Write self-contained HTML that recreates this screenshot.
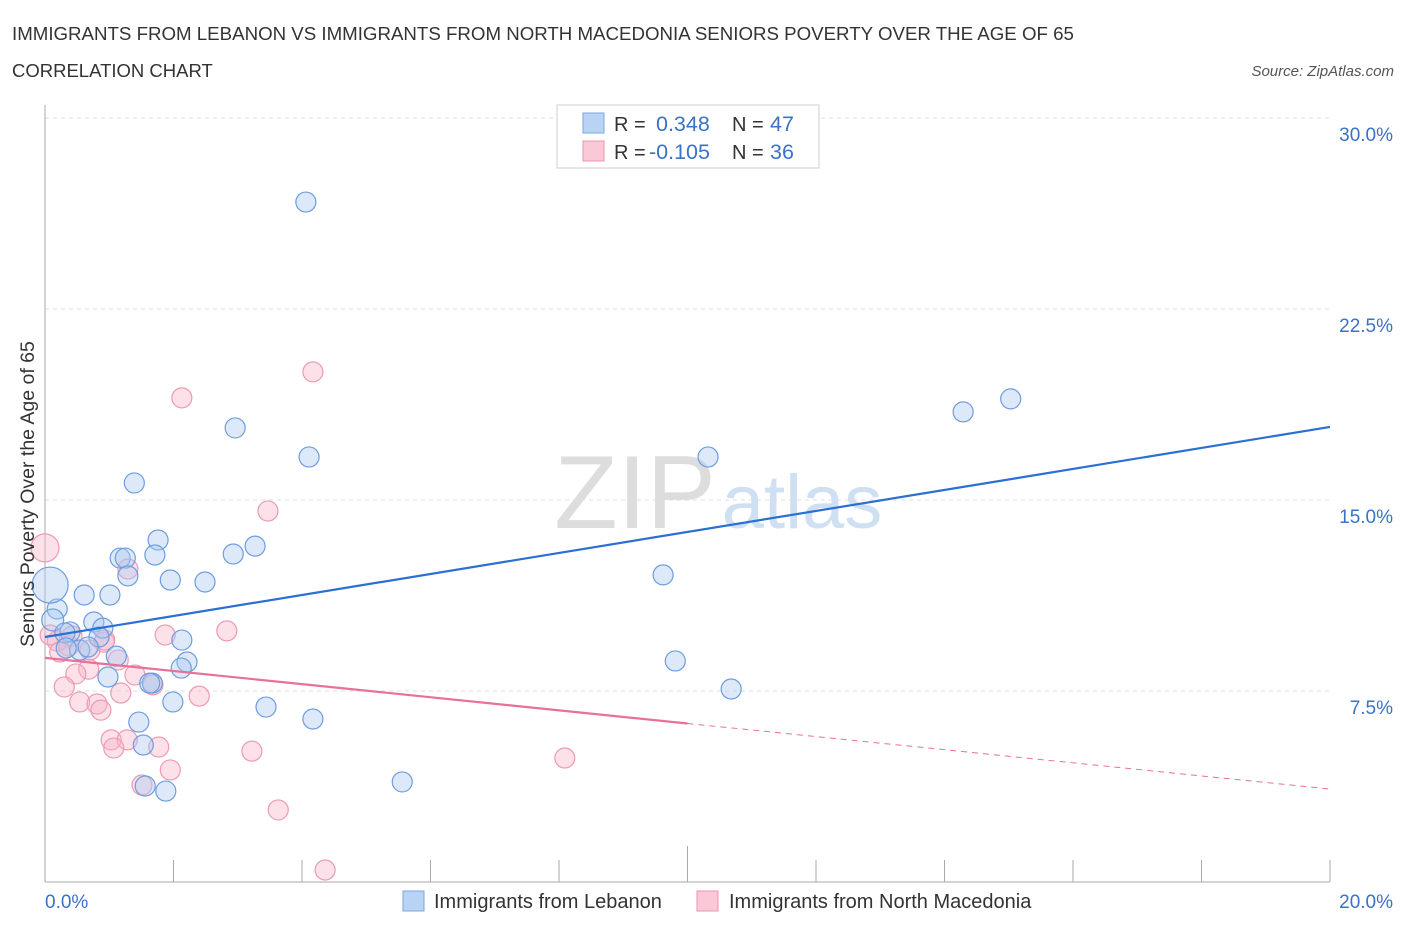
<!DOCTYPE html>
<html><head><meta charset="utf-8">
<style>
body{margin:0;background:#fff;font-family:"Liberation Sans",sans-serif;}
svg text{font-family:"Liberation Sans",sans-serif;}
</style></head>
<body>
<svg id="chart" width="1406" height="930" viewBox="0 0 1406 930">
<text x="12" y="40" font-size="18.7" fill="#333">IMMIGRANTS FROM LEBANON VS IMMIGRANTS FROM NORTH MACEDONIA SENIORS POVERTY OVER THE AGE OF 65</text>
<text x="12" y="77" font-size="18.5" fill="#333">CORRELATION CHART</text>
<text x="1394" y="76" font-size="15" fill="#555" font-style="italic" text-anchor="end">Source: ZipAtlas.com</text>
<g id="grid"></g>
<g id="axes"></g>
<text x="635" y="528" font-size="104" fill="#ddd" font-family="Liberation Serif" text-anchor="middle">ZIP</text>
<text x="802" y="528" font-size="76" fill="#cfe0f3" text-anchor="middle">atlas</text>
<g id="pts"></g>
<g id="trends"></g>
<text transform="translate(34,494) rotate(-90)" font-size="19.5" fill="#333" text-anchor="middle">Seniors Poverty Over the Age of 65</text>
<g>
<rect x="557" y="105" width="262" height="63" fill="#fff" stroke="#ccc"/>
<rect x="583" y="113" width="21" height="20" fill="#b9d3f5" stroke="#7aa7e0"/>
<rect x="583" y="141" width="21" height="20" fill="#fbc8d8" stroke="#ee93ae"/>
<text x="614" y="131" font-size="20" fill="#333">R = </text>
<text x="656" y="131" font-size="21.5" fill="#3a72c8">0.348</text>
<text x="732" y="131" font-size="20" fill="#333">N = </text>
<text x="770" y="131" font-size="21.5" fill="#3a72c8">47</text>
<text x="614" y="159" font-size="20" fill="#333">R = </text>
<text x="649" y="159" font-size="21.5" fill="#3a72c8">-0.105</text>
<text x="732" y="159" font-size="20" fill="#333">N = </text>
<text x="770" y="159" font-size="21.5" fill="#3a72c8">36</text>
</g>
<g>
<rect x="403" y="891" width="21" height="20" fill="#b9d3f5" stroke="#7aa7e0"/>
<text x="434" y="908" font-size="20" fill="#333">Immigrants from Lebanon</text>
<rect x="697" y="891" width="21" height="20" fill="#fbc8d8" stroke="#ee93ae"/>
<text x="729" y="908" font-size="20" fill="#333">Immigrants from North Macedonia</text>
</g>
</svg>
<script>
const yTicks=[7.5,15,22.5,30];
const yTickLabels=["7.5%","15.0%","22.5%","30.0%"];
const xTickLabels=["0.0%","20.0%"];
const blueX=[4.06,2.96,4.11,1.39,1.76,1.17,1.25,1.71,2.93,3.27,1.29,1.95,2.49,0.61,1.01,0.19,0.08,0.12,0.76,0.90,0.39,0.31,0.84,0.54,0.67,2.13,2.21,2.12,1.11,0.98,1.67,1.99,3.44,1.46,4.17,1.53,1.56,1.88,5.56,9.62,9.81,10.32,10.68,14.29,15.03,0.33,1.63];
const blueY=[26.70,17.83,16.69,15.67,13.43,12.72,12.72,12.84,12.88,13.19,12.02,11.86,11.78,11.27,11.27,10.72,11.66,10.29,10.21,9.97,9.82,9.78,9.62,9.11,9.23,9.50,8.64,8.40,8.87,8.05,7.81,7.07,6.87,6.28,6.40,5.38,3.77,3.57,3.93,12.06,8.68,16.69,7.58,18.46,18.97,9.19,7.81];
const blueR=[10,10,10,10,10,10,10,10,10,10,10,10,10,10,10,10,18,11,10,10,10,10,10,10,10,10,10,10,10,10,10,10,10,10,10,10,10,10,10,10,10,10,10,10,10,10,10];
const pinkX=[0,4.17,2.13,3.47,1.29,2.83,1.87,0.92,0.19,0.37,0.23,0.68,0.48,1.40,0.30,1.18,2.40,1.68,0.54,0.81,0.87,1.03,1.28,1.07,1.77,3.22,1.95,1.51,8.09,3.63,4.36,1.14,0.42,0.93,0.08,0.70];
const pinkY=[13.12,20.03,19.01,14.57,12.29,9.86,9.70,9.42,9.46,9.27,9.03,8.36,8.17,8.13,7.66,7.42,7.30,7.74,7.07,6.99,6.75,5.58,5.58,5.26,5.30,5.14,4.40,3.81,4.87,2.83,0.47,8.72,9.66,9.50,9.70,9.11];
const blueTrend=[9.62,17.87];
const pinkTrend=[8.80,3.65];
const pinkSolidEnd=10;
const NS="http://www.w3.org/2000/svg";
const X=v=>45+v/20*1285, Y=v=>882-v/30*764;
function mk(tag,attrs,parent){const e=document.createElementNS(NS,tag);for(const k in attrs)e.setAttribute(k,attrs[k]);parent.appendChild(e);return e;}
const grid=document.getElementById('grid'),axes=document.getElementById('axes');
yTicks.forEach((t,i)=>{
 const l=mk('line',{x1:45,x2:1330,y1:Y(t),y2:Y(t),stroke:'#ddd','stroke-dasharray':'4,4'},grid);
 
 
 const tx=mk('text',{x:1393,y:Y(t)+23,'font-size':19,fill:'#3a72c8','text-anchor':'end'},axes);
 tx.textContent=yTickLabels[i];
 
 
});
const ax=mk('line',{x1:45,x2:45,y1:105,y2:882,stroke:'#aaa'},axes);


const bx=mk('line',{x1:45,x2:1330,y1:882,y2:882,stroke:'#aaa'},axes);


for(let i=0;i<=10;i++){const x=X(i*2);const t=mk('line',{x1:x,x2:x,y1:i==5?846:860,y2:882,stroke:'#aaa'},axes);
 
 }
[[0,'start',45],[20,'end',1393]].forEach((d,i)=>{const t=mk('text',{x:d[2],y:908,'font-size':19,fill:'#3a72c8','text-anchor':d[1]},axes);t.textContent=xTickLabels[i];
 
 });
const pts=document.getElementById('pts');
pinkX.forEach((v,i)=>{const c=mk('circle',{cx:X(v),cy:Y(pinkY[i]),r:i==0?14:10,fill:'rgba(248,180,200,0.4)',stroke:'#ee9ab3','stroke-width':1.2},pts);
 
 });
blueX.forEach((v,i)=>{const c=mk('circle',{cx:X(v),cy:Y(blueY[i]),r:blueR[i],fill:'rgba(170,200,240,0.4)',stroke:'#6b9de0','stroke-width':1.2},pts);
 
 });
const tr=document.getElementById('trends');
const b=mk('line',{x1:X(0),y1:Y(blueTrend[0]),x2:X(20),y2:Y(blueTrend[1]),stroke:'#2a6fd4','stroke-width':2.2},tr);


const pm=v=>pinkTrend[0]+(pinkTrend[1]-pinkTrend[0])*v/20;
const p=mk('line',{x1:X(0),y1:Y(pm(0)),x2:X(pinkSolidEnd),y2:Y(pm(pinkSolidEnd)),stroke:'#e8709a','stroke-width':2.2},tr);


const pd=mk('line',{x1:X(pinkSolidEnd),y1:Y(pm(pinkSolidEnd)),x2:X(20),y2:Y(pm(20)),stroke:'#e8709a','stroke-width':1,'stroke-dasharray':'6,5'},tr);


</script>
</body></html>
